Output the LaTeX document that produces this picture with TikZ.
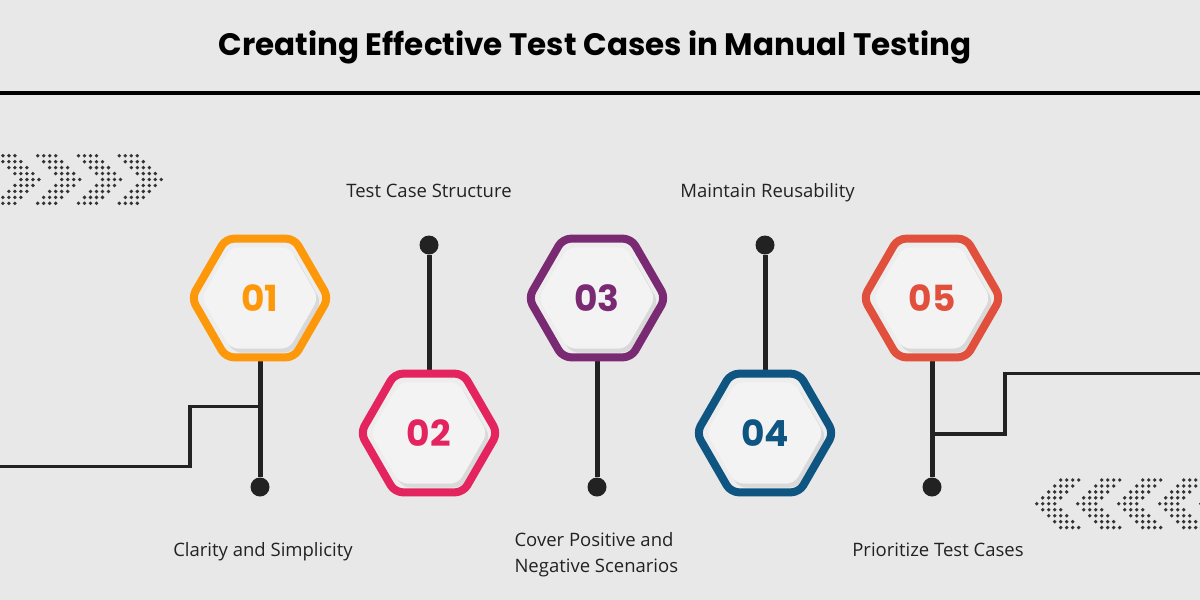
\documentclass[tikz,border=0pt]{standalone}
\usepackage{fontspec}
\setmainfont{Open Sans}
\newfontfamily\pop{Poppins}
\usetikzlibrary{shapes.geometric,calc}
\definecolor{bg}{HTML}{E8E8E8}
\definecolor{ink}{HTML}{222222}
\definecolor{dotc}{HTML}{333333}
\definecolor{cA}{HTML}{FD980B}
\definecolor{cB}{HTML}{E3245E}
\definecolor{cC}{HTML}{7A2A72}
\definecolor{cD}{HTML}{0E5582}
\definecolor{cE}{HTML}{E0503D}
\definecolor{rim}{HTML}{EDEDED}
\definecolor{face}{HTML}{F3F3F3}
\definecolor{shade}{HTML}{D9D9D9}
\tikzset{
  hexrim/.style={regular polygon, regular polygon sides=6, minimum size=137pt, inner sep=0pt, fill=rim, rounded corners=8pt},
  hexshade/.style={regular polygon, regular polygon sides=6, minimum size=117pt, inner sep=0pt, fill=shade, rounded corners=8pt},
  hexface/.style={regular polygon, regular polygon sides=6, minimum size=117pt, inner sep=0pt, fill=face, rounded corners=8pt},
  hexline/.style={regular polygon, regular polygon sides=6, minimum size=137pt, inner sep=0pt, draw=#1, line width=8pt, rounded corners=8pt, text=#1, font=\pop\bfseries\fontsize{36}{40}\selectfont},
  stem/.style={draw=ink, line width=5pt},
  wire/.style={draw=ink, line width=3.2pt},
  enddot/.style={circle, fill=ink, minimum size=19pt, inner sep=0pt},
  lbl/.style={font=\fontsize{18.5}{25.5}\selectfont, text=ink, anchor=base},
}
\newcommand\hexagonnode[4]{%
  \node[hexrim] at (#2) {};
  \node[hexshade] at ($(#2)+(3,4)$) {};
  \node[hexface] at (#2) {};
  \node[hexline=#3] (#1) at (#2) {#4};
}
\begin{document}
\begin{tikzpicture}[x=1pt,y=-1pt]
\useasboundingbox (0,0) rectangle (1200,600);
\fill[bg] (0,0) rectangle (1200,600);
% title
\node[font=\pop\bfseries\fontsize{31}{36}\selectfont, text=black] (title) at (595,47) {Creating Effective Test Cases in Manual Testing};
\coordinate (hl) at (0,93);
\coordinate (hr) at (1200,93);
\draw[black, line width=4pt] (hl) -- (hr);
% chevron dots
\begin{scope}
\clip (0,0) rectangle (1200,600);
\foreach \c in {0,...,4}{
  \foreach \i in {0,...,8}{
    \foreach \k in {0,...,3}{
      \pgfmathsetmacro\xx{37.7+40.8*(\c-2)+(4-abs(\i-4))*6+\k*6}
      \pgfmathsetmacro\yy{155.7+\i*5.95}
      \fill[dotc] (\xx,\yy) circle (1.9);
      \pgfmathsetmacro\xr{1036.7+41*\c+abs(\i-4)*6+\k*6}
      \pgfmathsetmacro\yr{480+\i*5.95}
      \fill[dotc] (\xr,\yr) circle (1.9);
    }
  }
}
\end{scope}
% end dots
\node[enddot] (d1) at (260,487) {};
\node[enddot] (d2) at (429,245) {};
\node[enddot] (d3) at (597,487) {};
\node[enddot] (d4) at (765,245) {};
\node[enddot] (d5) at (932,487) {};
% connectors
\coordinate (w1) at (0,466.5);
\coordinate (w2) at (190,466.5);
\coordinate (w3) at (190,406.5);
\coordinate (w4) at (260,406.5);
\coordinate (v1) at (932,434);
\coordinate (v2) at (1005,434);
\coordinate (v3) at (1005,373.5);
\coordinate (v4) at (1200,373.5);
\draw[wire] (w1) -- (w2) -- (w3) -- (w4);
\draw[wire] (v1) -- (v2) -- (v3) -- (v4);
\coordinate (c1) at (260,298);
\coordinate (c2) at (429,433);
\coordinate (c3) at (597,298);
\coordinate (c4) at (765,433);
\coordinate (c5) at (932,298);
\draw[stem] (d1) -- (c1);
\draw[stem] (d2) -- (c2);
\draw[stem] (d3) -- (c3);
\draw[stem] (d4) -- (c4);
\draw[stem] (d5) -- (c5);
% hexagons
\hexagonnode{h1}{c1}{cA}{01}
\hexagonnode{h2}{c2}{cB}{02}
\hexagonnode{h3}{c3}{cC}{03}
\hexagonnode{h4}{c4}{cD}{04}
\hexagonnode{h5}{c5}{cE}{05}
% labels
\node[lbl] (l1) at (263,556.5) {Clarity and Simplicity};
\node[lbl] (l2) at (429,197) {Test Case Structure};
\node[lbl, anchor=base west, align=left] (l3) at (511,572) {Cover Positive and\\Negative Scenarios};
\node[lbl] (l4) at (767.5,197) {Maintain Reusability};
\node[lbl] (l5) at (938,556.5) {Prioritize Test Cases};
\end{tikzpicture}
\end{document}
